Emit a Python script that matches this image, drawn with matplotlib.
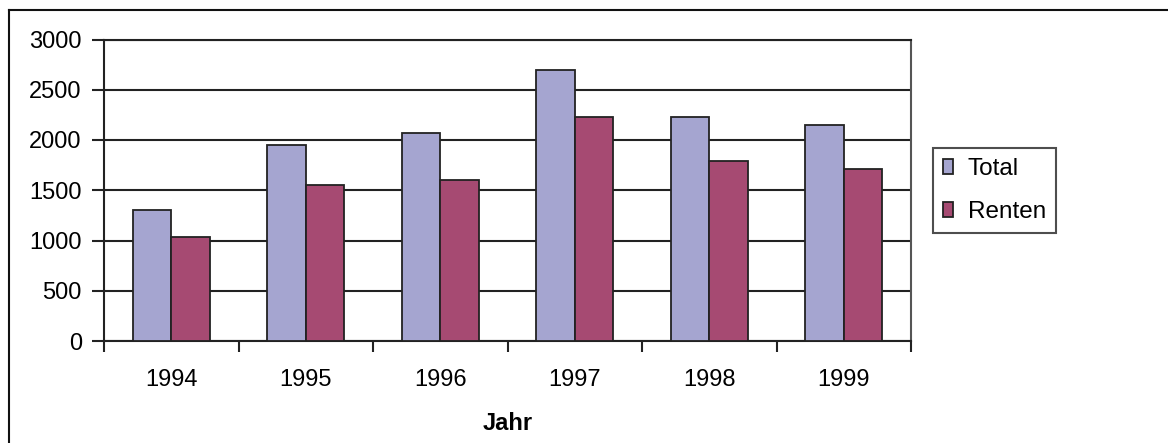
import matplotlib
matplotlib.use("Agg")
import matplotlib.pyplot as plt
from matplotlib.lines import Line2D
import numpy as np

plt.rcParams['font.family'] = ['Liberation Sans', 'DejaVu Sans']

years = ["1994", "1995", "1996", "1997", "1998", "1999"]
total = [1300, 1950, 2070, 2700, 2230, 2150]
renten = [1030, 1550, 1600, 2230, 1790, 1710]

W, H = 1168, 443
fig = plt.figure(figsize=(W / 100, H / 100), dpi=100)
ax = fig.add_axes([104 / W, 1 - 341 / H, (911 - 104) / W, (341 - 39.5) / H])

x = np.arange(len(years))
bw = 0.286
edge = "#222222"
ax.bar(x - bw / 2, total, bw, color="#A5A5D0", edgecolor=edge, linewidth=1.3,
       label="Total", zorder=3)
ax.bar(x + bw / 2, renten, bw, color="#A64A72", edgecolor=edge, linewidth=1.3,
       label="Renten", zorder=3)

ax.set_xlim(-0.5, len(years) - 0.5)
ax.set_ylim(0, 3000)
ax.set_yticks(np.arange(0, 3001, 500))
ax.yaxis.grid(True, color="#222222", linewidth=1.5, zorder=0)
ax.set_axisbelow(True)

# category labels centred, tick marks on the category boundaries
ax.set_xticks(x)
ax.set_xticklabels(years)
ax.set_xticks(np.arange(-0.5, len(years)), minor=True)
ax.tick_params(axis="x", which="major", length=0, pad=20, labelsize=17)
ax.tick_params(axis="x", which="minor", length=8, width=1.5, color="#222222",
               direction="out")
ax.tick_params(axis="y", length=9, width=1.5, color="#222222", pad=7,
               labelsize=17, direction="out")

for s in ax.spines.values():
    s.set_color("#222222")
    s.set_linewidth(1.5)
ax.spines["right"].set_color("#555555")

ax.set_xlabel("Jahr", fontsize=17, fontweight="bold", labelpad=15)

leg = ax.legend(loc="upper left", bbox_to_anchor=(933 / W, 1 - 148 / H),
                bbox_transform=fig.transFigure, fontsize=17.5, frameon=True,
                fancybox=False, edgecolor="#222222", handlelength=0.42,
                handleheight=0.6, handletextpad=0.6, labelspacing=0.85,
                borderpad=0.42, borderaxespad=0)
leg.get_frame().set_linewidth(1.5)

# outer chart border (left and top edges)
fig.add_artist(Line2D([9 / W, 9 / W], [0, 1 - 10 / H], transform=fig.transFigure,
                      color="#111111", linewidth=1.5))
fig.add_artist(Line2D([9 / W, 1], [1 - 10 / H, 1 - 10 / H], transform=fig.transFigure,
                      color="#111111", linewidth=1.5))

fig.savefig("out.png", dpi=100)
